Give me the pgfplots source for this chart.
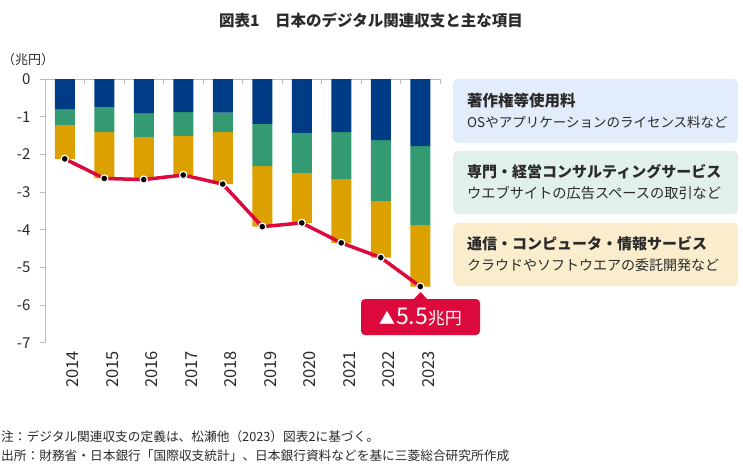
\documentclass[border=0pt]{standalone}
\usepackage{fontspec}
\setmainfont{Noto Sans CJK JP}
\usepackage{pgfplots}
\usepackage{pgfplotstable}
\pgfplotsset{compat=1.18}
\definecolor{cblue}{HTML}{003C85}
\definecolor{cgreen}{HTML}{339A72}
\definecolor{corange}{HTML}{DCA100}
\definecolor{cred}{HTML}{DC0A3C}
\definecolor{lblue}{HTML}{E3ECFA}
\definecolor{lgreen}{HTML}{E1F0EA}
\definecolor{lorange}{HTML}{FAEDCD}
\definecolor{axgray}{HTML}{BBBBBB}
\definecolor{txt}{HTML}{2A2A2A}

\pgfplotstableread{
x blue green orange total
0 -0.80 -0.42 -0.90 -2.12
1 -0.74 -0.67 -1.23 -2.64
2 -0.92 -0.62 -1.13 -2.67
3 -0.88 -0.63 -1.04 -2.55
4 -0.89 -0.52 -1.38 -2.79
5 -1.19 -1.12 -1.61 -3.92
6 -1.43 -1.07 -1.32 -3.82
7 -1.41 -1.26 -1.68 -4.35
8 -1.62 -1.62 -1.50 -4.74
9 -1.78 -2.11 -1.62 -5.51
}\datatable

\begin{document}
\begin{tikzpicture}
\begin{scope}[x=1pt,y=-1pt]
\path[use as bounding box] (0,0) rectangle (743,473);
\end{scope}

\begin{axis}[
  at={(45pt,-342.7pt)}, anchor=south west,
  scale only axis, width=395pt, height=263.7pt,
  xmin=-0.5, xmax=9.5, ymin=-7, ymax=0,
  ybar stacked, bar width=20pt,
  axis x line*=bottom, x axis line style={draw=none},
  axis y line*=left, y axis line style={axgray, line width=0.8pt, -},
  xtick={0,1,2,3,4,5,6,7,8,9},
  xticklabels={2014,2015,2016,2017,2018,2019,2020,2021,2022,2023},
  x tick style={draw=none},
  ytick={-7,-6,-5,-4,-3,-2,-1,0},
  yticklabels={-7,-6,-5,-4,-3,-2,-1,0},
  tick align=outside, major tick length=5pt,
  y tick style={axgray, line width=0.8pt},
  tick label style={text=txt},
  yticklabel style={font=\fontsize{15}{15}\selectfont, xshift=-6pt},
  xticklabel style={font=\fontsize{16.5}{16.5}\selectfont, rotate=90, anchor=east, yshift=-8pt},
  clip=false,
]
\addplot[fill=cblue, draw=none] table[x=x,y=blue]{\datatable};
\addplot[fill=cgreen, draw=none] table[x=x,y=green]{\datatable};
\addplot[fill=corange, draw=none] table[x=x,y=orange]{\datatable};
\draw[axgray, line width=0.8pt] (axis cs:-0.5,0) -- (axis cs:9.5,0);
\pgfplotsinvokeforeach{-0.5,0.5,1.5,2.5,3.5,4.5,5.5,6.5,7.5,8.5,9.5}{
  \draw[axgray, line width=0.8pt] (axis cs:#1,0) -- ++(0pt,-5pt);
}
\end{axis}

\begin{axis}[
  at={(45pt,-342.7pt)}, anchor=south west,
  scale only axis, width=395pt, height=263.7pt,
  xmin=-0.5, xmax=9.5, ymin=-7, ymax=0,
  hide axis, clip=false,
]
\addplot[cred, line width=3.5pt, mark=*, mark size=3.6pt,
  mark options={fill=black, draw=white, line width=1.2pt}]
  table[x=x,y=total]{\datatable};
\end{axis}

\begin{scope}[x=1pt,y=-1pt]
% title
\node[font=\bfseries\fontsize{15.5}{15.5}\selectfont, text=txt] at (371,20) {図表1　日本のデジタル関連収支と主な項目};
\node[anchor=west, inner sep=0, font=\fontsize{13}{13}\selectfont, text=txt] at (2,60) {（兆円）};
% annotation
\fill[cred, rounded corners=4pt] (361,299) rectangle (480,335);
\fill[cred] (413,300) -- (420.5,292) -- (428,300) -- cycle;
\node[text=white, inner sep=0] at (420.5,317.5) {\fontsize{16}{16}\selectfont ▲\hspace{1pt}\fontsize{23}{23}\selectfont 5.5\fontsize{17}{17}\selectfont 兆円};
% legend boxes
\fill[lblue, rounded corners=5pt] (453,79) rectangle (738,143);
\fill[lgreen, rounded corners=5pt] (453,151) rectangle (738,214);
\fill[lorange, rounded corners=5pt] (453,222.5) rectangle (738,286);
\begin{scope}[every node/.style={anchor=west, inner sep=0, text=txt}]
\node[font=\bfseries\fontsize{15.5}{15.5}\selectfont] at (467,101) {著作権等使用料};
\node[font=\fontsize{13.5}{13.5}\selectfont] at (467,122.5) {OSやアプリケーションのライセンス料など};
\node[font=\bfseries\fontsize{15}{15}\selectfont] at (467,172) {専門・経営コンサルティングサービス};
\node[font=\fontsize{14.2}{14.2}\selectfont] at (467,193.5) {ウエブサイトの広告スペースの取引など};
\node[font=\bfseries\fontsize{15}{15}\selectfont] at (467,243.5) {通信・コンピュータ・情報サービス};
\node[font=\fontsize{14}{14}\selectfont] at (467,265) {クラウドやソフトウエアの委託開発など};
% footnotes
\node[font=\fontsize{12.7}{12.7}\selectfont] at (1,437) {注：デジタル関連収支の定義は、松瀬他（2023）図表2に基づく。};
\node[font=\fontsize{12.7}{12.7}\selectfont] at (1,456) {出所：財務省・日本銀行「国際収支統計」、日本銀行資料などを基に三菱総合研究所作成};
\end{scope}
\end{scope}
\end{tikzpicture}
\end{document}
